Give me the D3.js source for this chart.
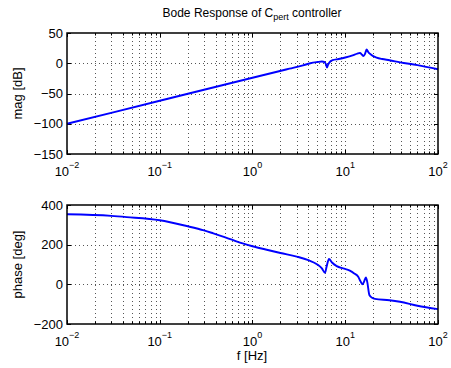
<!DOCTYPE html>
<html><head><meta charset="utf-8">
<script src="https://cdn.jsdelivr.net/npm/d3@7"></script>
<style>body{margin:0;background:#fff}svg{display:block;font-family:"Liberation Sans",Arial,sans-serif}</style>
</head><body>
<script>
const titleMain = "Bode Response of C";
const titleSub = "pert";
const titleEnd = " controller";
const xExps = [-2, -1, 0, 1, 2];
const magTicks = [-150, -100, -50, 0, 50];
const phaseTicks = [-200, 0, 200, 400];
const magFreq = [0.01, 0.1, 1, 2.5, 3.5, 4.2, 5.0, 5.6, 6.0, 6.2, 6.35, 6.5, 6.8, 7.3, 8.5, 10, 12, 13.5, 14.4, 15.2, 15.7, 16.3, 17.0, 17.6, 19, 21.8, 25, 30, 39, 60, 100];
const magDb   = [-100, -62, -24, -9, -3.5, 0, 2, 3, 2, -2, -7, -3, 2, 5, 7, 9.5, 13, 16, 17, 14, 12, 15, 23, 19, 14, 9.4, 7, 5, 1.5, -3, -10];
const phaseFreq = [0.01, 0.03, 0.044, 0.1, 0.195, 0.3, 0.378, 0.5, 0.6, 0.8, 1, 1.5, 2, 3, 4, 5, 5.6, 6.05, 6.3, 6.68, 7.2, 8.1, 9.5, 11.2, 12.5, 13.8, 14.6, 15.4, 16, 16.7, 17.3, 18.2, 19.5, 20.9, 30, 38.9, 60, 100];
const phaseDeg  = [353, 345, 339, 323, 294, 272, 257, 238, 225, 205, 192, 172, 158, 140, 122, 100, 80, 58, 90, 128, 110, 92, 80, 69, 55, 38, 15, 0, 15, 35, 10, -54, -68, -73, -80, -88, -108, -125];

const W = 451, H = 368;
const svg = d3.select("body").append("svg").attr("width", W).attr("height", H);
svg.append("rect").attr("width", W).attr("height", H).attr("fill", "#fff");

const x = d3.scaleLog().domain([1e-2, 1e2]).range([67, 438]);
const minorTicks = [];
for (let e = -2; e < 2; e++) for (let m = 1; m <= 9; m++) minorTicks.push(m * Math.pow(10, e));
minorTicks.push(100);

function panel(y0, y1, domain, ticks, fx, fy, ylabel) {
  const y = d3.scaleLinear().domain(domain).range([y1, y0]);
  const g = svg.append("g");
  const [xl, xr] = x.range();
  g.selectAll(".gx").data(minorTicks.filter(v => v > 0.0100001 && v < 99.999)).enter().append("line")
    .attr("x1", d => Math.round(x(d)) + 0.5).attr("x2", d => Math.round(x(d)) + 0.5)
    .attr("y1", y0).attr("y2", y1).attr("stroke", "#555").attr("stroke-width", 1).attr("stroke-dasharray", "1,3");
  g.selectAll(".gy").data(ticks.filter(v => v > domain[0] && v < domain[1])).enter().append("line")
    .attr("y1", d => Math.round(y(d)) + 0.5).attr("y2", d => Math.round(y(d)) + 0.5)
    .attr("x1", xl).attr("x2", xr).attr("stroke", "#555").attr("stroke-width", 1).attr("stroke-dasharray", "1,3");
  g.selectAll(".tx").data(minorTicks).enter().append("path")
    .attr("d", d => {
      const xx = Math.round(x(d)) + 0.5;
      const major = xExps.some(e => Math.abs(Math.log10(d) - e) < 1e-6);
      const L = major ? 4 : 2.5;
      return `M${xx},${y1}v${-L}M${xx},${y0}v${L}`;
    }).attr("stroke", "#000").attr("stroke-width", 1);
  g.selectAll(".ty").data(ticks).enter().append("path")
    .attr("d", d => { const yy = Math.round(y(d)) + 0.5; return `M${xl},${yy}h4M${xr},${yy}h-4`; })
    .attr("stroke", "#000").attr("stroke-width", 1);
  const line = d3.line().x(d => x(d[0])).y(d => y(d[1])).curve(d3.curveMonotoneX);
  g.append("path").datum(fx.map((f, i) => [f, fy[i]])).attr("d", line)
    .attr("fill", "none").attr("stroke", "#0000ff").attr("stroke-width", 1.9).attr("stroke-linejoin", "round");
  g.append("rect").attr("x", xl).attr("y", y0).attr("width", xr - xl).attr("height", y1 - y0)
    .attr("fill", "none").attr("stroke", "#000").attr("stroke-width", 1.5);
  g.selectAll(".yl").data(ticks).enter().append("text")
    .attr("x", xl - 4).attr("y", d => y(d) + 4.5).attr("text-anchor", "end")
    .attr("font-size", 13).text(d => d < 0 ? "\u2212" + Math.abs(d) : d);
  const xt = g.selectAll(".xl").data(xExps).enter().append("text")
    .attr("x", d => x(Math.pow(10, d))).attr("y", y1 + 21.5).attr("text-anchor", "middle").attr("font-size", 13);
  xt.append("tspan").text("10");
  xt.append("tspan").attr("dy", -8).attr("font-size", 9).text(d => d < 0 ? "\u2212" + Math.abs(d) : d);
  svg.append("text").attr("transform", `translate(22,${(y0 + y1) / 2}) rotate(-90)`)
    .attr("text-anchor", "middle").attr("font-size", 13).text(ylabel);
  return y;
}

panel(33, 154, [-150, 50], magTicks, magFreq, magDb, "mag [dB]");
panel(205, 324, [-200, 400], phaseTicks, phaseFreq, phaseDeg, "phase [deg]");

const t = svg.append("text").attr("x", 252).attr("y", 17).attr("text-anchor", "middle").attr("font-size", 12);
t.append("tspan").text(titleMain);
t.append("tspan").attr("dy", 3).attr("font-size", 9).text(titleSub);
t.append("tspan").attr("dy", -3).text(titleEnd);

svg.append("text").attr("x", 252).attr("y", 360).attr("text-anchor", "middle").attr("font-size", 13).text("f [Hz]");
</script>
</body></html>
